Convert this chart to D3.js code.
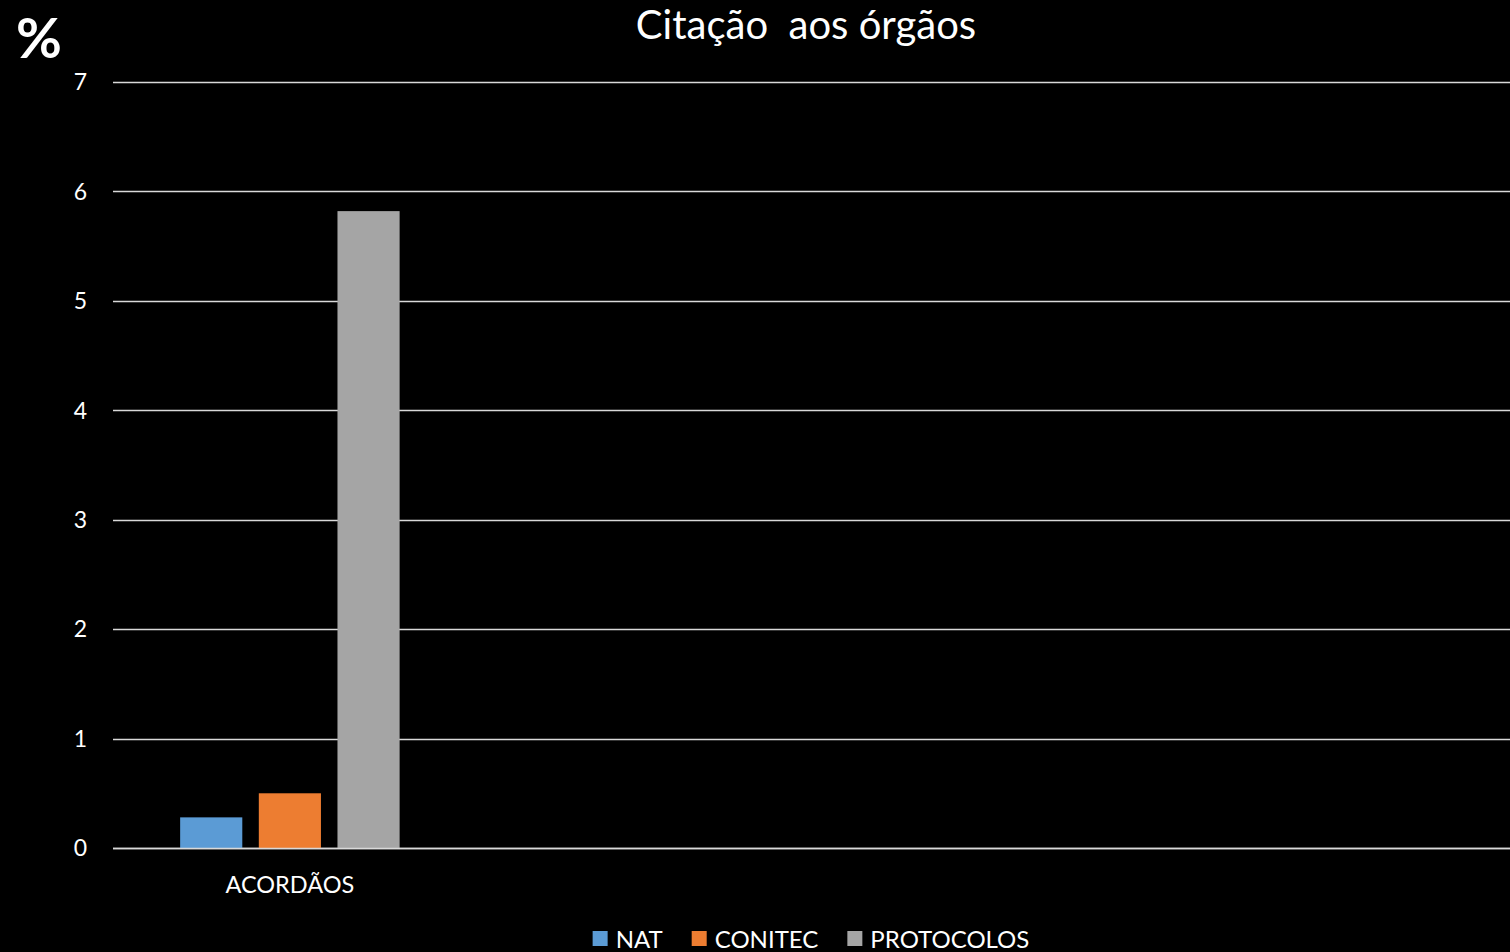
<!DOCTYPE html>
<html>
<head>
<meta charset="utf-8">
<script src="https://d3js.org/d3.v7.min.js"></script>
<style>
  html, body { margin: 0; padding: 0; background: #000; overflow: hidden; }
  text { font-family: Lato, "Open Sans", sans-serif; fill: #fff; }
</style>
</head>
<body>
<script>
(function(){
//chart data
var categoryLabels = ["ACORDÃOS", "", "", ""]; //only the first category has values
var seriesNames = ["NAT", "CONITEC", "PROTOCOLOS"];
var natValues = [0.28, null, null, null];
var conitecValues = [0.5, null, null, null];
var protocolosValues = [5.82, null, null, null];
var yTicks = [0, 1, 2, 3, 4, 5, 6, 7];
var seriesColors = ["#5B9BD5", "#ED7D31", "#A5A5A5"];

var width = 1510,
    height = 952;

var svg = d3.select("body")
    .append("svg")
    .attr("width", width)
    .attr("height", height);

svg.append("rect")
    .attr("width", width)
    .attr("height", height)
    .attr("fill", "#000");

//plot area
var left = 113, right = 1527, top = 82, bottom = 848;

var x0 = d3.scaleBand()
    .domain(d3.range(categoryLabels.length))
    .range([left, right])
    .paddingInner(0.379)
    .paddingOuter(0.19);

var x1 = d3.scaleBand()
    .domain(seriesNames)
    .range([0, x0.bandwidth()])
    .paddingInner(0.21);

var y = d3.scaleLinear()
    .domain([0, 7])
    .range([bottom, top]);

//gridlines
svg.append("g")
    .selectAll("line")
    .data(yTicks)
    .enter()
    .append("line")
    .attr("x1", left)
    .attr("x2", width)
    .attr("y1", function(d){ return Math.round(y(d)) + 0.5; })
    .attr("y2", function(d){ return Math.round(y(d)) + 0.5; })
    .attr("stroke", "#d9d9d9")
    .attr("stroke-width", 1.5);

//y tick labels
svg.append("g")
    .selectAll("text")
    .data(yTicks)
    .enter()
    .append("text")
    .attr("x", 87)
    .attr("y", function(d){ return y(d); })
    .attr("dy", "0.36em")
    .attr("text-anchor", "end")
    .style("font-size", "23px")
    .text(function(d){ return d; });

//bars
var table = categoryLabels.map(function(c, i){
    return {
        index: i,
        values: [natValues[i], conitecValues[i], protocolosValues[i]]
    };
});

var groups = svg.append("g")
    .selectAll("g")
    .data(table)
    .enter()
    .append("g")
    .attr("transform", function(d){ return "translate(" + x0(d.index) + ",0)"; });

groups.selectAll("rect")
    .data(function(d){
        return d.values.map(function(v, j){ return {name: seriesNames[j], value: v, color: seriesColors[j]}; })
            .filter(function(e){ return e.value != null; });
    })
    .enter()
    .append("rect")
    .attr("x", function(d){ return x1(d.name); })
    .attr("width", x1.bandwidth())
    .attr("y", function(d){ return y(d.value); })
    .attr("height", function(d){ return y(0) - y(d.value); })
    .attr("fill", function(d){ return d.color; });

//redraw baseline over bars
svg.append("line")
    .attr("x1", left)
    .attr("x2", width)
    .attr("y1", Math.round(y(0)) + 0.5)
    .attr("y2", Math.round(y(0)) + 0.5)
    .attr("stroke", "#d9d9d9")
    .attr("stroke-width", 1.5);

//category labels
svg.append("g")
    .selectAll("text")
    .data(categoryLabels)
    .enter()
    .append("text")
    .attr("x", function(d, i){ return x0(i) + x0.bandwidth() / 2; })
    .attr("y", 893)
    .attr("text-anchor", "middle")
    .style("font-size", "23.5px")
    .text(function(d){ return d; });

//title
svg.append("text")
    .attr("x", 806)
    .attr("y", 39)
    .attr("text-anchor", "middle")
    .attr("xml:space", "preserve")
    .style("white-space", "pre")
    .style("font-size", "40px")
    .text("Citação  aos órgãos");

//percent sign
svg.append("text")
    .attr("x", 16)
    .attr("y", 58)
    .style("font-size", "56px")
    .style("font-weight", "bold")
    .text("%");

//legend
var legend = svg.append("g");
var lx = 0;
seriesNames.forEach(function(name, i){
    var item = legend.append("g").attr("transform", "translate(" + lx + ",0)");
    item.append("rect")
        .attr("x", 0)
        .attr("y", -8)
        .attr("width", 15)
        .attr("height", 15)
        .attr("fill", seriesColors[i]);
    var t = item.append("text")
        .attr("x", 23)
        .attr("y", 0)
        .attr("dy", "0.36em")
        .style("font-size", "24px")
        .text(name);
    lx += 23 + t.node().getComputedTextLength() + 29;
});
var legendWidth = lx - 29;
legend.attr("transform", "translate(" + (811 - legendWidth / 2) + ",939)");
})();
</script>
</body>
</html>
